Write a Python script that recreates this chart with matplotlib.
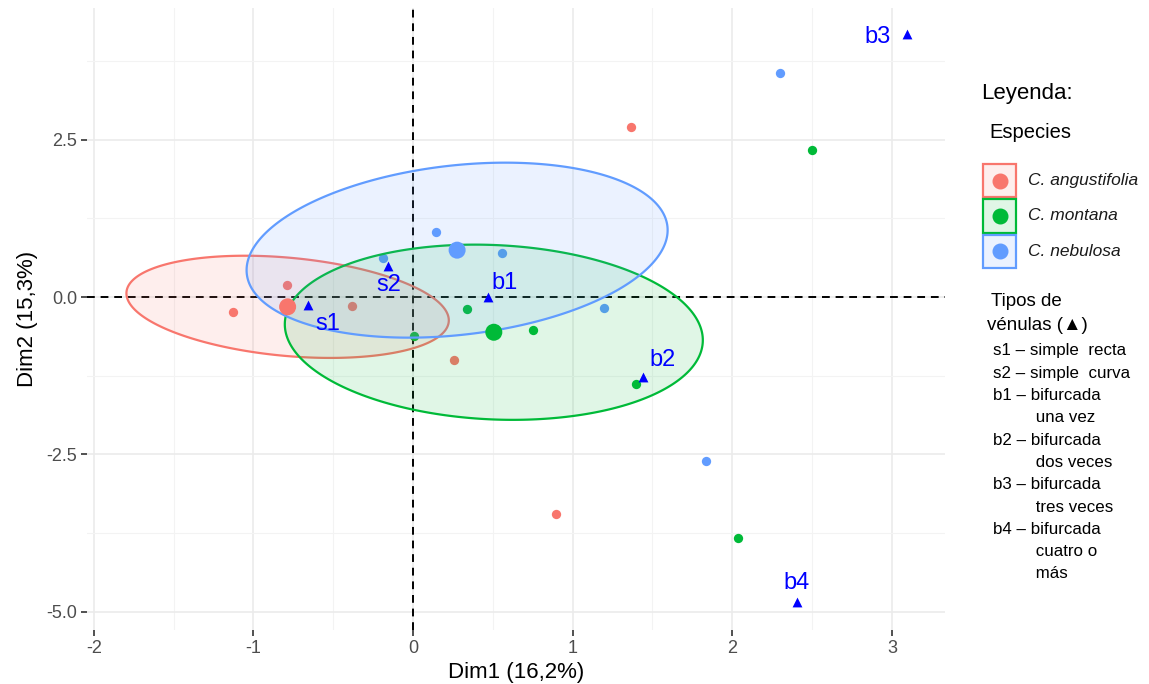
import numpy as np
import matplotlib
matplotlib.use("Agg")
import matplotlib.pyplot as plt
from matplotlib.patches import Rectangle, Polygon
from matplotlib.ticker import MultipleLocator

plt.rcParams['font.family'] = ['Liberation Sans', 'DejaVu Sans']
plt.rcParams['axes.unicode_minus'] = False

# datos (coordenadas PCA)
species = ['C. angustifolia', 'C. montana', 'C. nebulosa']
colors = ['#F8766D', '#00BA38', '#619CFF']

ang_x = [-1.129, -0.791, -0.382, 0.258, 1.363, 0.895]
ang_y = [-0.231, 0.199, -0.135, -1.006, 2.710, -3.447]
mon_x = [0.341, 0.753, 0.007, 1.394, 2.497, 2.034]
mon_y = [-0.183, -0.518, -0.613, -1.382, 2.333, -3.830]
neb_x = [0.143, -0.187, 0.558, 1.197, 2.300, 1.835]
neb_y = [1.038, 0.624, 0.698, -0.172, 3.559, -2.604]

# centroides de cada especie
cen_x = [-0.786, 0.506, 0.276]
cen_y = [-0.156, -0.560, 0.745]

# elipses de concentracion (covarianza)
ell_sxx = [1.02, 1.715, 1.74]
ell_sxy = [-0.217, -0.166, 0.42]
ell_syy = [0.66, 1.94, 1.935]

# tipos de venulas
ven_lab = ['s1', 's2', 'b1', 'b2', 'b3', 'b4']
ven_x = [-0.659, -0.158, 0.469, 1.440, 3.094, 2.405]
ven_y = [-0.120, 0.486, 0.008, -1.266, 4.180, -4.850]
ven_off = [(14, -14), (1, -13), (12, 10), (14, 12), (-21, -2), (0, 14)]

legend_lines = ['s1 – simple  recta', 's2 – simple  curva', 'b1 – bifurcada',
                '         una vez', 'b2 – bifurcada', '         dos veces',
                'b3 – bifurcada', '         tres veces', 'b4 – bifurcada',
                '         cuatro o', '         más']

W, H = 1149, 684
fig = plt.figure(figsize=(W / 100, H / 100), dpi=100)
ax = fig.add_axes([87 / W, 1 - 630 / H, (945 - 87) / W, (630 - 8) / H])

ax.set_xlim(-2.043, 3.333)
ax.set_ylim(-5.294, 4.595)
for s in ax.spines.values():
    s.set_visible(False)
ax.xaxis.set_major_locator(MultipleLocator(1))
ax.xaxis.set_minor_locator(MultipleLocator(0.5))
ax.yaxis.set_major_locator(MultipleLocator(2.5))
ax.yaxis.set_minor_locator(MultipleLocator(1.25))
ax.set_yticks([-5, -2.5, 0, 2.5])
ax.set_yticklabels(['-5.0', '-2.5', '0.0', '2.5'])
ax.grid(which='major', color='#EBEBEB', lw=1.2, zorder=0)
ax.grid(which='minor', color='#F3F3F3', lw=0.8, zorder=0)
ax.set_axisbelow(True)
ax.tick_params(which='major', length=4, width=1.2, color='#333333',
               labelcolor='#4D4D4D', labelsize=13, pad=3)
ax.tick_params(which='minor', length=0)

ax.axhline(0, color='black', lw=1.4, ls=(0, (4, 3)), zorder=1)
ax.axvline(0, color='black', lw=1.4, ls=(0, (4, 3)), zorder=1)

xs = [ang_x, mon_x, neb_x]
ys = [ang_y, mon_y, neb_y]
for i in range(3):
    ax.scatter(xs[i], ys[i], s=45, color=colors[i], lw=0, zorder=2)

# elipses
t = np.linspace(0, 2 * np.pi, 300)
for i in range(3):
    S = np.array([[ell_sxx[i], ell_sxy[i]], [ell_sxy[i], ell_syy[i]]])
    L = np.linalg.cholesky(S)
    pts = (L @ np.vstack([np.cos(t), np.sin(t)])).T + [cen_x[i], cen_y[i]]
    ax.add_patch(Polygon(pts, closed=True, facecolor=colors[i], alpha=0.12,
                         lw=0, zorder=3))
    ax.add_patch(Polygon(pts, closed=True, fill=False, edgecolor=colors[i],
                         lw=1.6, zorder=3))

ax.scatter(cen_x, cen_y, s=150, color=colors, lw=0, zorder=4)

ax.scatter(ven_x, ven_y, marker='^', s=50, color='#0000FF', lw=0, zorder=5)
for lab, x, y, off in zip(ven_lab, ven_x, ven_y, ven_off):
    ax.annotate(lab, (x, y), xytext=off, textcoords='offset points',
                ha='center', va='center', color='#0000FF', fontsize=17, zorder=6)

ax.set_xlabel('Dim1 (16,2%)', fontsize=16, labelpad=4)
ax.set_ylabel('Dim2 (15,3%)', fontsize=16, labelpad=6)

# leyenda
def fx(px):
    return px / W

def fy(py):
    return 1 - py / H

fig.text(fx(981), fy(94), 'Leyenda:', fontsize=16, va='center')
fig.text(fx(989), fy(133), 'Especies', fontsize=14.5, va='center')
for i in range(3):
    top = 163 + i * 35.3
    fig.patches.append(Rectangle((fx(982), fy(top + 35.3)), 35 / W, 35.3 / H,
                                 transform=fig.transFigure, facecolor=colors[i],
                                 alpha=0.12, lw=0))
    fig.patches.append(Rectangle((fx(983), fy(top + 34.3)), 33 / W, 33.3 / H,
                                 transform=fig.transFigure, fill=False,
                                 edgecolor=colors[i], lw=1.6))
    fig.lines.append(plt.Line2D([fx(999.5)], [fy(top + 17.6)], marker='o',
                                markersize=10.5, color=colors[i], lw=0,
                                transform=fig.transFigure))
    fig.text(fx(1028), fy(top + 17.6), species[i], fontsize=12.5,
             style='italic', va='center', color='#1A1A1A')

fig.text(fx(991), fy(302), 'Tipos de', fontsize=13.5, va='center')
fig.text(fx(987), fy(326), 'vénulas (▲)', fontsize=13.5, va='center')
for k, line in enumerate(legend_lines):
    fig.text(fx(993), fy(351 + k * 22.3), line, fontsize=12.2, va='center')

fig.savefig('out.png', dpi=100)
